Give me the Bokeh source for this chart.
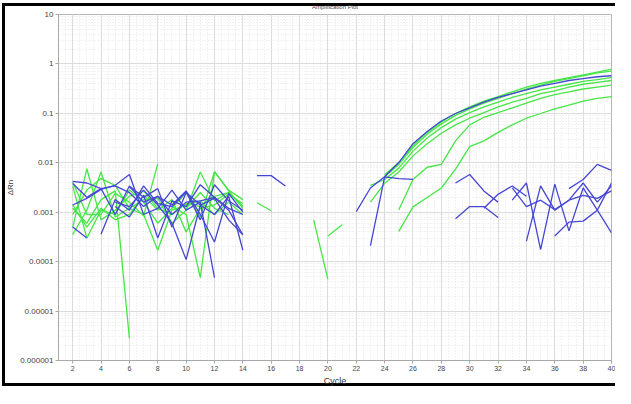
import numpy as np
from bokeh.plotting import figure
from bokeh.models import FixedTicker, CustomJSTickFormatter, Range1d
from bokeh.embed import file_html
from bokeh.resources import INLINE

N = None
cycles = list(range(1, 41))

# green wells (values per cycle 1..40, None = not plotted)
green_1 = [N, 0.0034, 0.0003, 0.0011, 0.0009, 0.0028, 0.0016, 0.0006, 0.0012, 0.0025, 0.0008, 0.0066, 0.0027, 0.0012] + [N] * 9 + \
          [0.0057, 0.0101, 0.0223, 0.0412, 0.0669, 0.0993, 0.135, 0.176, 0.219, 0.273, 0.34, 0.405, 0.462, 0.527, 0.601, 0.686, 0.783]
green_2 = [N, 0.0005, 0.0075, 0.0007, 0.0011, 0.0021, 0.0027, 0.0012, 0.0009, 0.0015, 0.0013, 0.0021, 0.0025, 0.0013] + [N] * 9 + \
          [0.00523, 0.00927, 0.0204, 0.0378, 0.0612, 0.091, 0.1237, 0.161, 0.2005, 0.25, 0.311, 0.371, 0.443, 0.505, 0.576, 0.657, 0.717]
green_3 = [N, 0.00035, 0.0011, 0.0065, 0.0008, 0.0012, 0.0009, 0.00017, 0.0011, 0.0014, 0.0017, 0.0009, 0.0016, 0.0009] + [N] * 8 + \
          [0.0035, 0.00459, 0.0078, 0.0172, 0.0317, 0.0514, 0.0763, 0.1038, 0.135, 0.168, 0.21, 0.25, 0.298, 0.34, 0.388, 0.443, 0.483, 0.527]
green_4 = [N, 0.0012, 0.0006, 0.0018, 0.0027, 0.0000028, N, N, 0.0013, 0.0009, 0.0000475, 0.0066, 0.0028, 0.0018] + [N] * 5 + \
          [0.00033, 0.00056] + [N] * 19
green_5 = [N, 0.0041, 0.0009, 0.0009, 0.0024, 0.0016, 0.00085, 0.0095, N, 0.0012, 0.0025, 0.0012, 0.0009, N] + \
          [0.00155, 0.00107] + [N] * 8 + \
          [0.00112, 0.00459, 0.00812, 0.00927, 0.0278, 0.0586, 0.0833, 0.1038, 0.129, 0.161, 0.2005, 0.239, 0.273, 0.311, 0.34, 0.371]
green_6 = [N, 0.0009, 0.0028, 0.0048, 0.0035, 0.0012, 0.0018, 0.0019, 0.0006, 0.0011, 0.0065, 0.0017, 0.0025, 0.0013] + [N] * 4 + \
          [0.00069, 0.0000436] + [N] * 4 + \
          [0.00041, 0.00128, 0.00199, 0.00309, 0.00743, 0.0213, 0.0278, 0.0412, 0.0586, 0.0797, 0.0993, 0.1237, 0.1475, 0.176, 0.2005, 0.219]
green_7 = [N, 0.0014, 0.0005, 0.0012, 0.0007, 0.0009, 0.0022, 0.0011, 0.0018, 0.0004, 0.0012, 0.0014, 0.0023, 0.0015] + [N] * 8 + \
          [0.0016, 0.00385, 0.00652, 0.0138, 0.0243, 0.0395, 0.0586, 0.0797, 0.1038, 0.135, 0.168, 0.2005, 0.25, 0.285, 0.34, 0.388, 0.423, 0.462]

# blue wells
blue_1 = [N, 0.0042, 0.0039, 0.0030, 0.0034, 0.0025, 0.0013, 0.0021, 0.0009, 0.0016, 0.0017, 0.0020, 0.0011, 0.00035] + [N] * 7 + \
         [0.00103, 0.00309, 0.00523, 0.0101, 0.0243, 0.0431, 0.0699, 0.0993, 0.129, 0.168, 0.21, 0.25, 0.298, 0.355, 0.405, 0.462, 0.505, 0.55, 0.576]
blue_2 = [N, 0.0014, 0.0019, 0.0029, 0.0035, 0.0058, 0.0009, 0.0012, 0.0028, 0.0011, 0.0016, 0.0000475, N, N] + \
         [0.0055, 0.0055, 0.0034] + [N] * 11 + [0.0039, 0.0058, 0.0027, 0.0016] + [N] * 8
blue_3 = [N, 0.0005, 0.0003, N, 0.0016, 0.0013, 0.0028, 0.0014, 0.0006, 0.00011, 0.0014, 0.0009, 0.0021, 0.00017] + [N] * 14 + \
         [0.00074, 0.0013, 0.0013, 0.00078] + [N] * 4 + [0.003, 0.0046, 0.0093, 0.007]
blue_4 = [N, N, N, 0.00036, 0.0018, 0.0011, 0.0034, 0.0015, 0.0013, 0.0026, 0.0007, 0.0036, 0.0017, 0.0011] + [N] * 8 + \
         [0.00021, 0.0052, 0.0048, 0.0046] + [N] * 4 + [0.0012, 0.0023, 0.0034, 0.0021] + [N] * 6
blue_5 = [N, 0.0038, 0.0020, 0.0030, 0.0009, 0.0034, 0.0020, 0.0030, 0.0005, 0.0025, 0.0014, 0.0019, 0.0007, 0.00035] + [N] * 18 + \
         [0.00175, 0.0039, 0.000175, 0.0037, 0.00042, 0.0031, 0.0011, 0.0039]
blue_6 = [N, N, N, N, 0.0013, 0.0008, 0.0022, 0.0003, 0.0017, 0.0013, 0.0036, 0.0020, 0.0012, 0.0009] + [N] * 19 + \
         [0.00026, 0.0034, 0.0011, 0.00175, 0.0022, 0.0019, 0.0027]
blue_7 = [N, N, N, N, N, 0.0033, 0.0016, 0.0021, 0.0014, 0.0027, 0.0009, 0.00025, 0.0024, 0.0010] + [N] * 21 + \
         [0.00033, 0.00063, 0.00066, 0.0011, 0.00038]
blue_8 = [N] * 32 + [0.0031, 0.0013, 0.00175, 0.00113, 0.00175, 0.0039, 0.0016, 0.0034]

green_wells = [green_1, green_2, green_3, green_4, green_5, green_6, green_7]
blue_wells = [blue_1, blue_2, blue_3, blue_4, blue_5, blue_6, blue_7, blue_8]

x_ticks = list(range(2, 41, 2))
y_ticks = [1e-6, 1e-5, 1e-4, 1e-3, 1e-2, 1e-1, 1, 10]

GREEN = "#46e646"
BLUE = "#4646d6"

p = figure(width=615, height=388, y_axis_type="log",
           x_range=Range1d(1, 40), y_range=Range1d(1e-6, 10),
           output_backend="svg", toolbar_location=None,
           title="Amplification Plot",
           min_border_left=58, min_border_right=4, min_border_top=13, min_border_bottom=0)
# black screenshot frame (left, top, bottom) painted behind a transparent canvas border
p.styles = {"box-shadow": ("inset 2px 0 0 0 #ffffff, inset 0 3px 0 0 #ffffff, inset 0 -2px 0 0 #ffffff, "
                           "inset 5px 0 0 0 #000000, inset 0 6px 0 0 #000000, inset 0 -5px 0 0 #000000")}
p.border_fill_alpha = 0

p.title.text_font_size = "6px"
p.title.text_font_style = "normal"
p.title.text_color = "#444444"
p.title.align = "center"
p.title.vertical_align = "top"
p.title.text_font = "Liberation Sans"
p.title.standoff = 6
p.title.offset = 0

for s in green_wells:
    p.line(cycles, np.array(s, dtype=float), line_color=GREEN, line_width=1.3)
for s in blue_wells:
    p.line(cycles, np.array(s, dtype=float), line_color=BLUE, line_width=1.3)

xt = FixedTicker(ticks=x_ticks, minor_ticks=[i * 0.5 for i in range(2, 81)])
yt = FixedTicker(ticks=y_ticks, minor_ticks=[k * 10.0 ** d for d in range(-6, 1) for k in range(2, 10)])
p.xaxis.ticker = xt
p.xgrid.ticker = xt
p.yaxis.ticker = yt
p.ygrid.ticker = yt

p.yaxis.formatter = CustomJSTickFormatter(code="""
if (tick >= 1) { return tick.toFixed(0); }
const d = Math.round(-Math.log10(tick));
return tick.toFixed(d);
""")

for ax in (p.xaxis, p.yaxis):
    ax.axis_line_color = "#a8a8a8"
    ax.major_tick_line_color = "#a8a8a8"
    ax.major_tick_out = 3
    ax.major_tick_in = 0
    ax.minor_tick_out = 0
    ax.minor_tick_in = 0
    ax.major_label_standoff = 2
    ax.major_label_text_color = "#444444"
    ax.major_label_text_font = "Liberation Sans"
    ax.axis_label_text_font = "Liberation Sans"
    ax.axis_label_text_font_style = "normal"
    ax.axis_label_text_color = "#333333"

p.xaxis.major_label_text_font_size = "7px"
p.yaxis.major_label_text_font_size = "8px"
p.xaxis.axis_label = "Cycle"
p.xaxis.axis_label_text_font_size = "9px"
p.xaxis.axis_label_standoff = 2
p.yaxis.axis_label = "ΔRn"
p.yaxis.axis_label_text_font_size = "8px"
p.yaxis.axis_label_standoff = 2

for g in (p.xgrid, p.ygrid):
    g.grid_line_color = "#dcdcdc"
    g.grid_line_width = 1
    g.minor_grid_line_color = "#e4e4e4"
    g.minor_grid_line_dash = "1 2"

p.outline_line_color = "#b4b4b4"
p.background_fill_color = "white"

open("out.html", "w").write(file_html(p, INLINE))
